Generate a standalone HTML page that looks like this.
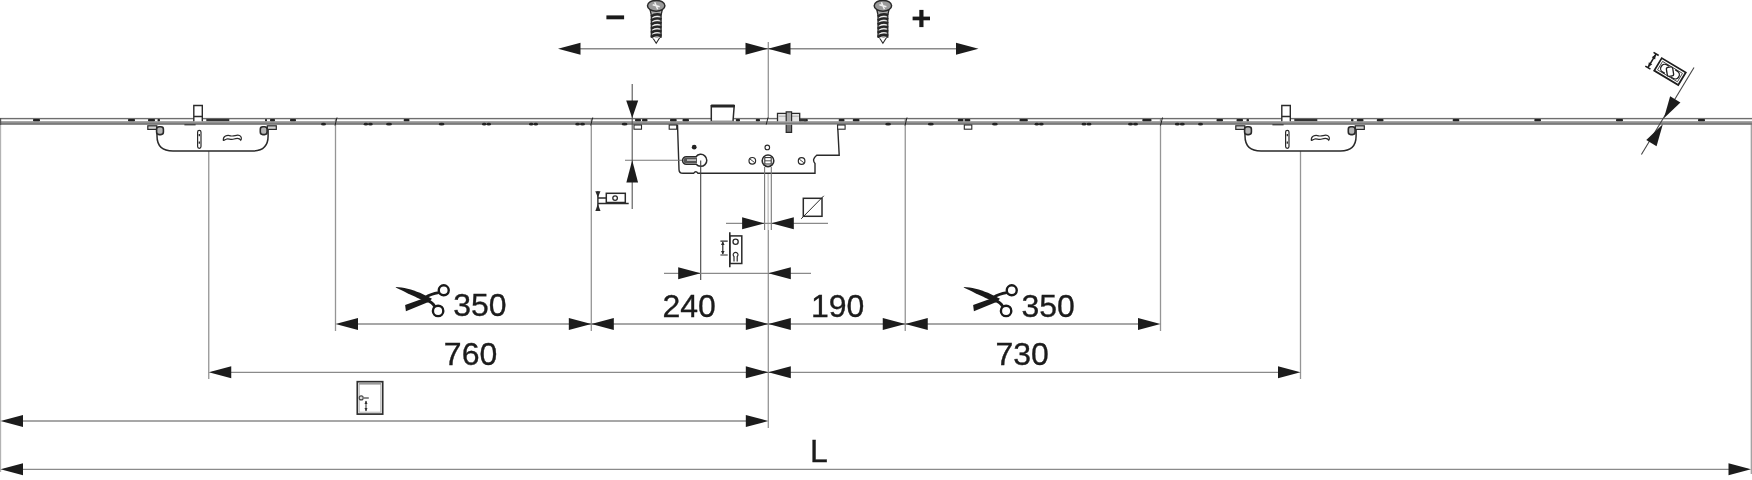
<!DOCTYPE html>
<html><head><meta charset="utf-8"><title>Multipoint lock dimensions</title>
<style>html,body{margin:0;padding:0;background:#fff;width:1752px;height:480px;overflow:hidden;font-family:"Liberation Sans",sans-serif}</style>
</head><body>
<svg width="1752" height="480" viewBox="0 0 1752 480" style="position:absolute;left:0;top:0;will-change:transform;font-family:'Liberation Sans',sans-serif"><line x1="0.60" y1="124.00" x2="0.60" y2="472.00" stroke="#b0b0b0" stroke-width="1.10"/>
<line x1="208.75" y1="151.00" x2="208.75" y2="379.00" stroke="#959595" stroke-width="1.30"/>
<line x1="335.50" y1="119.00" x2="335.50" y2="331.00" stroke="#959595" stroke-width="1.30"/>
<line x1="591.30" y1="119.00" x2="591.30" y2="331.00" stroke="#959595" stroke-width="1.30"/>
<line x1="768.30" y1="42.00" x2="768.30" y2="119.00" stroke="#959595" stroke-width="1.30"/>
<line x1="768.10" y1="167.00" x2="768.10" y2="230.00" stroke="#aaa" stroke-width="1.00"/>
<line x1="768.30" y1="230.00" x2="768.30" y2="428.00" stroke="#959595" stroke-width="1.30"/>
<line x1="905.25" y1="119.00" x2="905.25" y2="331.00" stroke="#959595" stroke-width="1.30"/>
<line x1="1160.50" y1="119.00" x2="1160.50" y2="331.00" stroke="#959595" stroke-width="1.30"/>
<line x1="1300.50" y1="151.00" x2="1300.50" y2="379.00" stroke="#959595" stroke-width="1.30"/>
<line x1="1751.30" y1="124.00" x2="1751.30" y2="474.00" stroke="#999" stroke-width="1.20"/>
<line x1="570.00" y1="48.75" x2="966.00" y2="48.75" stroke="#8a8a8a" stroke-width="1.30"/>
<polygon points="558.00,48.75 580.50,42.75 580.50,54.75" fill="#1c1c1c"/>
<polygon points="768.00,48.75 745.50,42.75 745.50,54.75" fill="#1c1c1c"/>
<polygon points="768.00,48.75 790.50,42.75 790.50,54.75" fill="#1c1c1c"/>
<polygon points="978.50,48.75 956.00,42.75 956.00,54.75" fill="#1c1c1c"/>
<line x1="340.00" y1="324.00" x2="1156.00" y2="324.00" stroke="#8a8a8a" stroke-width="1.30"/>
<polygon points="335.50,324.00 358.00,318.00 358.00,330.00" fill="#1c1c1c"/>
<polygon points="591.30,324.00 613.80,318.00 613.80,330.00" fill="#1c1c1c"/>
<polygon points="768.30,324.00 790.80,318.00 790.80,330.00" fill="#1c1c1c"/>
<polygon points="905.25,324.00 927.75,318.00 927.75,330.00" fill="#1c1c1c"/>
<polygon points="591.30,324.00 568.80,318.00 568.80,330.00" fill="#1c1c1c"/>
<polygon points="768.30,324.00 745.80,318.00 745.80,330.00" fill="#1c1c1c"/>
<polygon points="905.25,324.00 882.75,318.00 882.75,330.00" fill="#1c1c1c"/>
<polygon points="1160.50,324.00 1138.00,318.00 1138.00,330.00" fill="#1c1c1c"/>
<line x1="212.00" y1="372.30" x2="1296.00" y2="372.30" stroke="#8a8a8a" stroke-width="1.30"/>
<polygon points="208.75,372.30 231.25,366.30 231.25,378.30" fill="#1c1c1c"/>
<polygon points="768.30,372.30 745.80,366.30 745.80,378.30" fill="#1c1c1c"/>
<polygon points="768.30,372.30 790.80,366.30 790.80,378.30" fill="#1c1c1c"/>
<polygon points="1300.50,372.30 1278.00,366.30 1278.00,378.30" fill="#1c1c1c"/>
<line x1="4.00" y1="421.00" x2="764.00" y2="421.00" stroke="#8a8a8a" stroke-width="1.30"/>
<polygon points="0.50,421.00 23.00,415.00 23.00,427.00" fill="#1c1c1c"/>
<polygon points="768.30,421.00 745.80,415.00 745.80,427.00" fill="#1c1c1c"/>
<line x1="4.00" y1="469.30" x2="1748.00" y2="469.30" stroke="#8a8a8a" stroke-width="1.30"/>
<polygon points="0.50,469.30 23.00,463.30 23.00,475.30" fill="#1c1c1c"/>
<polygon points="1751.00,469.30 1728.50,463.30 1728.50,475.30" fill="#1c1c1c"/>
<text x="453.25" y="316.40" font-size="32.00" fill="#1c1c1c" stroke="#1c1c1c" stroke-width="0.35" text-anchor="start">350</text>
<text x="662.45" y="316.60" font-size="32.00" fill="#1c1c1c" stroke="#1c1c1c" stroke-width="0.35" text-anchor="start">240</text>
<text x="810.90" y="316.70" font-size="32.00" fill="#1c1c1c" stroke="#1c1c1c" stroke-width="0.35" text-anchor="start">190</text>
<text x="1021.50" y="316.60" font-size="32.00" fill="#1c1c1c" stroke="#1c1c1c" stroke-width="0.35" text-anchor="start">350</text>
<text x="443.85" y="364.70" font-size="32.00" fill="#1c1c1c" stroke="#1c1c1c" stroke-width="0.35" text-anchor="start">760</text>
<text x="995.50" y="364.70" font-size="32.00" fill="#1c1c1c" stroke="#1c1c1c" stroke-width="0.35" text-anchor="start">730</text>
<text x="810.05" y="462.10" font-size="32.00" fill="#1c1c1c" stroke="#1c1c1c" stroke-width="0.35" text-anchor="start">L</text>
<rect x="0" y="117.9" width="1752" height="1.4" fill="#6e6e6e"/>
<rect x="0" y="121.2" width="1752" height="3.4" fill="#929292"/>
<rect x="0" y="123.4" width="1752" height="1.2" fill="#6c6c6c"/>
<rect x="0" y="118" width="1.2" height="7" fill="#555"/>
<rect x="33.0" y="118.9" width="7.0" height="2.4" rx="0.8" fill="#222"/>
<rect x="128.0" y="118.9" width="7.0" height="2.4" rx="0.8" fill="#222"/>
<rect x="148.0" y="118.9" width="7.0" height="2.4" rx="0.8" fill="#222"/>
<rect x="157.5" y="118.9" width="2.5" height="2.4" rx="0.8" fill="#222"/>
<rect x="265.0" y="118.9" width="2.0" height="2.4" rx="0.8" fill="#222"/>
<rect x="270.0" y="118.9" width="5.0" height="2.4" rx="0.8" fill="#222"/>
<rect x="290.0" y="118.9" width="6.0" height="2.4" rx="0.8" fill="#222"/>
<rect x="403.7" y="118.9" width="5.8" height="2.4" rx="0.8" fill="#222"/>
<rect x="635.0" y="118.9" width="6.0" height="2.4" rx="0.8" fill="#222"/>
<rect x="642.0" y="118.9" width="5.5" height="2.4" rx="0.8" fill="#222"/>
<rect x="670.0" y="118.9" width="6.7" height="2.4" rx="0.8" fill="#222"/>
<rect x="682.5" y="118.9" width="6.5" height="2.4" rx="0.8" fill="#222"/>
<rect x="735.8" y="118.9" width="4.2" height="2.4" rx="0.8" fill="#222"/>
<rect x="755.8" y="118.9" width="4.2" height="2.4" rx="0.8" fill="#222"/>
<rect x="803.7" y="118.9" width="4.1" height="2.4" rx="0.8" fill="#222"/>
<rect x="838.7" y="118.9" width="5.8" height="2.4" rx="0.8" fill="#222"/>
<rect x="852.8" y="118.9" width="6.7" height="2.4" rx="0.8" fill="#222"/>
<rect x="957.8" y="118.9" width="5.7" height="2.4" rx="0.8" fill="#222"/>
<rect x="964.5" y="118.9" width="5.8" height="2.4" rx="0.8" fill="#222"/>
<rect x="1019.5" y="118.9" width="8.3" height="2.4" rx="0.8" fill="#222"/>
<rect x="1142.3" y="118.9" width="9.2" height="2.4" rx="0.8" fill="#222"/>
<rect x="1216.5" y="118.9" width="6.5" height="2.4" rx="0.8" fill="#222"/>
<rect x="1236.5" y="118.9" width="6.5" height="2.4" rx="0.8" fill="#222"/>
<rect x="1246.5" y="118.9" width="2.5" height="2.4" rx="0.8" fill="#222"/>
<rect x="1351.0" y="118.9" width="2.5" height="2.4" rx="0.8" fill="#222"/>
<rect x="1356.8" y="118.9" width="6.7" height="2.4" rx="0.8" fill="#222"/>
<rect x="1376.8" y="118.9" width="6.7" height="2.4" rx="0.8" fill="#222"/>
<rect x="1452.7" y="118.9" width="6.6" height="2.4" rx="0.8" fill="#222"/>
<rect x="1534.3" y="118.9" width="6.7" height="2.4" rx="0.8" fill="#222"/>
<rect x="1616.0" y="118.9" width="7.0" height="2.4" rx="0.8" fill="#222"/>
<rect x="1698.0" y="118.9" width="7.0" height="2.4" rx="0.8" fill="#222"/>
<ellipse cx="323.5" cy="124.2" rx="2.5" ry="1.4" fill="#222"/>
<ellipse cx="365.9" cy="124.2" rx="2.2" ry="1.4" fill="#222"/>
<ellipse cx="370.4" cy="124.2" rx="2.4" ry="1.4" fill="#222"/>
<ellipse cx="389.0" cy="124.2" rx="3.0" ry="1.4" fill="#222"/>
<ellipse cx="441.6" cy="124.2" rx="2.9" ry="1.4" fill="#222"/>
<ellipse cx="484.2" cy="124.2" rx="2.2" ry="1.4" fill="#222"/>
<ellipse cx="488.8" cy="124.2" rx="2.2" ry="1.4" fill="#222"/>
<ellipse cx="531.2" cy="124.2" rx="2.2" ry="1.4" fill="#222"/>
<ellipse cx="535.8" cy="124.2" rx="2.2" ry="1.4" fill="#222"/>
<ellipse cx="577.6" cy="124.2" rx="2.4" ry="1.4" fill="#222"/>
<ellipse cx="582.5" cy="124.2" rx="2.5" ry="1.4" fill="#222"/>
<ellipse cx="624.6" cy="124.2" rx="2.9" ry="1.4" fill="#222"/>
<ellipse cx="888.1" cy="124.2" rx="2.9" ry="1.4" fill="#222"/>
<ellipse cx="930.8" cy="124.2" rx="3.0" ry="1.4" fill="#222"/>
<ellipse cx="994.9" cy="124.2" rx="2.9" ry="1.4" fill="#222"/>
<ellipse cx="1036.8" cy="124.2" rx="2.2" ry="1.4" fill="#222"/>
<ellipse cx="1041.3" cy="124.2" rx="2.4" ry="1.4" fill="#222"/>
<ellipse cx="1084.0" cy="124.2" rx="2.5" ry="1.4" fill="#222"/>
<ellipse cx="1089.0" cy="124.2" rx="2.5" ry="1.4" fill="#222"/>
<ellipse cx="1130.5" cy="124.2" rx="2.5" ry="1.4" fill="#222"/>
<ellipse cx="1135.5" cy="124.2" rx="2.5" ry="1.4" fill="#222"/>
<ellipse cx="1177.3" cy="124.2" rx="2.5" ry="1.4" fill="#222"/>
<ellipse cx="1182.3" cy="124.2" rx="2.5" ry="1.4" fill="#222"/>
<ellipse cx="1200.5" cy="124.2" rx="2.5" ry="1.4" fill="#222"/>
<line x1="335.0" y1="125.5" x2="337.0" y2="117.5" stroke="#222" stroke-width="1"/>
<line x1="590.7" y1="125.5" x2="592.7" y2="117.5" stroke="#222" stroke-width="1"/>
<line x1="766.0" y1="125.5" x2="768.0" y2="117.5" stroke="#222" stroke-width="1"/>
<line x1="905.0" y1="125.5" x2="907.0" y2="117.5" stroke="#222" stroke-width="1"/>
<line x1="1160.5" y1="125.5" x2="1162.5" y2="117.5" stroke="#222" stroke-width="1"/>
<g transform="translate(0.00,0)"><path d="M157,128.5 L157,136 Q157,151 173,151 L252.5,151 Q268.1,151 268.1,136 L268.1,128.5" fill="none" stroke="#2a2a2a" stroke-width="1.5"/><rect x="147.8" y="125.8" width="9" height="3.6" fill="#d0d0d0" stroke="#2a2a2a" stroke-width="1.2"/><rect x="267.3" y="125.8" width="9" height="3.6" fill="#d0d0d0" stroke="#2a2a2a" stroke-width="1.2"/><rect x="156.6" y="126.8" width="6.8" height="7.8" rx="2.5" fill="#b5b5b5" stroke="#2a2a2a" stroke-width="1.6"/><rect x="260.3" y="126.8" width="6.8" height="7.8" rx="2.5" fill="#b5b5b5" stroke="#2a2a2a" stroke-width="1.6"/><path d="M193.8,121.2 L193.8,105.5 L202.3,105.5 L202.3,121.2 M193.8,116.5 L202.3,116.5" fill="#fff" stroke="#2a2a2a" stroke-width="1.4"/><rect x="206.3" y="118.9" width="23" height="2.2" fill="#333"/><rect x="184.4" y="124" width="11.2" height="1.4" fill="#444"/><rect x="197.6" y="130.3" width="3.4" height="18" rx="1.7" fill="#fff" stroke="#2a2a2a" stroke-width="1.2"/><rect x="198.6" y="134" width="1.4" height="2.2" fill="#333"/><rect x="198.6" y="141.5" width="1.4" height="2.2" fill="#333"/><path d="M223.3,140.2 C223,136 227,134.8 230.5,135.8 C234,136.8 236.5,134.3 239.5,135.5 C241.5,136.3 241.8,139 240.8,140.2 C239.5,138 237,138 234,139 C231,140 228,138.3 226,139.2 C225,139.6 224.2,140.8 223.3,140.2 Z" fill="#fff" stroke="#2a2a2a" stroke-width="1.2"/></g>
<g transform="translate(1088.00,0)"><path d="M157,128.5 L157,136 Q157,151 173,151 L252.5,151 Q268.1,151 268.1,136 L268.1,128.5" fill="none" stroke="#2a2a2a" stroke-width="1.5"/><rect x="147.8" y="125.8" width="9" height="3.6" fill="#d0d0d0" stroke="#2a2a2a" stroke-width="1.2"/><rect x="267.3" y="125.8" width="9" height="3.6" fill="#d0d0d0" stroke="#2a2a2a" stroke-width="1.2"/><rect x="156.6" y="126.8" width="6.8" height="7.8" rx="2.5" fill="#b5b5b5" stroke="#2a2a2a" stroke-width="1.6"/><rect x="260.3" y="126.8" width="6.8" height="7.8" rx="2.5" fill="#b5b5b5" stroke="#2a2a2a" stroke-width="1.6"/><path d="M193.8,121.2 L193.8,105.5 L202.3,105.5 L202.3,121.2 M193.8,116.5 L202.3,116.5" fill="#fff" stroke="#2a2a2a" stroke-width="1.4"/><rect x="206.3" y="118.9" width="23" height="2.2" fill="#333"/><rect x="184.4" y="124" width="11.2" height="1.4" fill="#444"/><rect x="197.6" y="130.3" width="3.4" height="18" rx="1.7" fill="#fff" stroke="#2a2a2a" stroke-width="1.2"/><rect x="198.6" y="134" width="1.4" height="2.2" fill="#333"/><rect x="198.6" y="141.5" width="1.4" height="2.2" fill="#333"/><path d="M223.3,140.2 C223,136 227,134.8 230.5,135.8 C234,136.8 236.5,134.3 239.5,135.5 C241.5,136.3 241.8,139 240.8,140.2 C239.5,138 237,138 234,139 C231,140 228,138.3 226,139.2 C225,139.6 224.2,140.8 223.3,140.2 Z" fill="#fff" stroke="#2a2a2a" stroke-width="1.2"/></g>
<path d="M677.5,124.8 L679,169.5 Q679,173.3 683,173.3 L693.6,173.3 Q695.8,170.2 698,173.3 L815,173.3 L815,163.5 Q811.5,159.5 816.7,155.3 L839.2,155.3 L837.6,124.8" fill="#fff" stroke="#2a2a2a" stroke-width="1.4"/>
<rect x="634.0" y="125" width="7.5" height="4.2" fill="#fff" stroke="#2a2a2a" stroke-width="1.1"/>
<rect x="669.2" y="125" width="7.5" height="4.2" fill="#fff" stroke="#2a2a2a" stroke-width="1.1"/>
<rect x="837.6" y="125" width="7.5" height="4.2" fill="#fff" stroke="#2a2a2a" stroke-width="1.1"/>
<rect x="964.3" y="125" width="7.5" height="4.2" fill="#fff" stroke="#2a2a2a" stroke-width="1.1"/>
<path d="M711.3,121.2 L711.3,105.8 L734.2,105.8 L733,121.2" fill="#fff" stroke="#2a2a2a" stroke-width="1.5"/>
<rect x="710.8" y="104.6" width="24" height="2.8" rx="0.8" fill="#262626"/>
<line x1="712" y1="121.1" x2="732.5" y2="121.1" stroke="#777" stroke-width="0.9"/>
<path d="M777.5,121.2 L777.5,113.4 L799.7,113.4 L799.7,121.2" fill="#e6e6e6" stroke="#2a2a2a" stroke-width="1.3"/>
<line x1="778.5" y1="116.2" x2="798.8" y2="116.2" stroke="#999" stroke-width="0.8"/>
<path d="M786.2,121.2 L786.2,111.8 L791.6,111.8 L791.6,121.2" fill="#aaa" stroke="#2a2a2a" stroke-width="1.2"/>
<path d="M786.2,124.8 L786.2,132.4 L791.6,132.4 L791.6,124.8" fill="#777" stroke="#2a2a2a" stroke-width="1.2"/>
<rect x="800" y="119" width="6" height="2.2" fill="#333"/>
<circle cx="694.2" cy="147.2" r="2.4" fill="#222"/>
<circle cx="767.3" cy="147.4" r="2.3" fill="#fff" stroke="#2a2a2a" stroke-width="1.1"/>
<circle cx="752.3" cy="160.8" r="3.3" fill="#fff" stroke="#2a2a2a" stroke-width="1.2"/>
<line x1="750" y1="159" x2="754.5" y2="162.5" stroke="#2a2a2a" stroke-width="0.9"/>
<circle cx="801.6" cy="161" r="3.3" fill="#fff" stroke="#2a2a2a" stroke-width="1.2"/>
<line x1="799.3" y1="159.2" x2="803.8" y2="162.7" stroke="#2a2a2a" stroke-width="0.9"/>
<path d="M686.3,156.7 L696,156.7 A6,6 0 1 1 696.2,164.2 L686.3,164.2 A3.75,3.75 0 0 1 686.3,156.7 Z" fill="#fff" stroke="#2a2a2a" stroke-width="1.5"/>
<path d="M686.3,157.6 L697,157.6 L697,163.3 L686.3,163.3 A2.85,2.85 0 0 1 686.3,157.6 Z" fill="#555"/>
<rect x="687" y="159.3" width="9" height="1.6" fill="#ccc"/>
<circle cx="768" cy="160.8" r="5.8" fill="#fff" stroke="#2a2a2a" stroke-width="1.6"/>
<rect x="764.8" y="157.6" width="6.4" height="6.4" fill="none" stroke="#2a2a2a" stroke-width="1"/>
<line x1="765" y1="160.8" x2="771" y2="160.8" stroke="#2a2a2a" stroke-width="0.8"/>
<line x1="764.60" y1="167.00" x2="764.60" y2="230.00" stroke="#777" stroke-width="1.10"/>
<line x1="771.30" y1="167.00" x2="771.30" y2="230.00" stroke="#777" stroke-width="1.10"/>
<line x1="625.00" y1="160.30" x2="682.00" y2="160.30" stroke="#777" stroke-width="1.10"/>
<line x1="700.70" y1="160.50" x2="700.70" y2="280.00" stroke="#444" stroke-width="1.10"/>
<line x1="632.20" y1="84.00" x2="632.20" y2="209.00" stroke="#555" stroke-width="1.10"/>
<polygon points="632.20,118.00 626.20,100.50 638.20,100.50" fill="#1c1c1c"/>
<polygon points="632.20,160.20 626.35,182.50 638.05,182.50" fill="#1c1c1c"/>
<line x1="726.00" y1="223.30" x2="828.00" y2="223.30" stroke="#8a8a8a" stroke-width="1.30"/>
<polygon points="764.60,223.30 742.10,217.30 742.10,229.30" fill="#1c1c1c"/>
<polygon points="771.30,223.30 793.80,217.30 793.80,229.30" fill="#1c1c1c"/>
<rect x="803.3" y="198.3" width="18.7" height="18" fill="none" stroke="#2a2a2a" stroke-width="1.5"/>
<line x1="801.2" y1="218.8" x2="823.8" y2="195.8" stroke="#2a2a2a" stroke-width="1"/>
<line x1="664.00" y1="273.30" x2="811.00" y2="273.30" stroke="#8a8a8a" stroke-width="1.30"/>
<polygon points="700.70,273.30 678.20,267.30 678.20,279.30" fill="#1c1c1c"/>
<polygon points="768.30,273.30 790.80,267.30 790.80,279.30" fill="#1c1c1c"/>
<line x1="729.8" y1="232.3" x2="729.8" y2="267.2" stroke="#2a2a2a" stroke-width="1.6"/>
<rect x="729.8" y="235.9" width="12" height="27.6" fill="none" stroke="#2a2a2a" stroke-width="1.5"/>
<circle cx="735.6" cy="241.8" r="2.6" fill="none" stroke="#2a2a2a" stroke-width="1.3"/>
<path d="M734,261.5 L734,256.5 A2.4,2.4 0 1 1 737.2,256.5 L737.2,261.5" fill="none" stroke="#2a2a2a" stroke-width="1.2"/>
<path d="M720.4,241.1 L727.7,241.1 M720.4,255 L727.7,255 M722.8,242 L722.8,254" fill="none" stroke="#2a2a2a" stroke-width="1.2"/>
<polygon points="722.8,241.5 721,245 724.6,245" fill="#2a2a2a"/><polygon points="722.8,254.6 721,251 724.6,251" fill="#2a2a2a"/>
<rect x="606.3" y="193.3" width="19" height="9.2" fill="none" stroke="#2a2a2a" stroke-width="1.5"/>
<circle cx="615.1" cy="198.1" r="2.3" fill="none" stroke="#2a2a2a" stroke-width="1.3"/>
<path d="M597.5,203.5 L628.7,203.5 M597.9,198 L606.3,198 M597.9,191.3 L597.9,210.9" fill="none" stroke="#2a2a2a" stroke-width="1.4"/>
<polygon points="597.9,197.5 595.3,191.3 600.5,191.3" fill="#2a2a2a"/><polygon points="597.9,204 595.3,210.9 600.5,210.9" fill="#2a2a2a"/>
<g><path d="M651.60,36 L656.20,43.3 L660.80,36 Z" fill="#fff" stroke="#2a2a2a" stroke-width="1.1"/><path d="M650.20,10 L651.30,15 L651.30,37 L661.10,37 L661.10,15 L662.20,10 Z" fill="#aaa" stroke="#2a2a2a" stroke-width="1.3"/><path d="M651.00,16.40 Q656.20,12.90 661.40,15.20" fill="none" stroke="#262626" stroke-width="2.4"/><path d="M652.80,17.70 Q656.20,15.70 659.60,16.90" fill="none" stroke="#f4f4f4" stroke-width="1.1"/><path d="M651.00,20.50 Q656.20,17.00 661.40,19.30" fill="none" stroke="#262626" stroke-width="2.4"/><path d="M652.80,21.80 Q656.20,19.80 659.60,21.00" fill="none" stroke="#f4f4f4" stroke-width="1.1"/><path d="M651.00,24.60 Q656.20,21.10 661.40,23.40" fill="none" stroke="#262626" stroke-width="2.4"/><path d="M652.80,25.90 Q656.20,23.90 659.60,25.10" fill="none" stroke="#f4f4f4" stroke-width="1.1"/><path d="M651.00,28.70 Q656.20,25.20 661.40,27.50" fill="none" stroke="#262626" stroke-width="2.4"/><path d="M652.80,30.00 Q656.20,28.00 659.60,29.20" fill="none" stroke="#f4f4f4" stroke-width="1.1"/><path d="M651.00,32.80 Q656.20,29.30 661.40,31.60" fill="none" stroke="#262626" stroke-width="2.4"/><path d="M652.80,34.10 Q656.20,32.10 659.60,33.30" fill="none" stroke="#f4f4f4" stroke-width="1.1"/><path d="M651.00,36.90 Q656.20,33.40 661.40,35.70" fill="none" stroke="#262626" stroke-width="2.4"/><path d="M652.80,38.20 Q656.20,36.20 659.60,37.40" fill="none" stroke="#f4f4f4" stroke-width="1.1"/><ellipse cx="656.20" cy="5.8" rx="8.7" ry="5.4" fill="#9a9a9a" stroke="#2a2a2a" stroke-width="1.5"/><path d="M654.70,2.2 L657.70,9.2 M652.70,4.8 L659.70,6.8" fill="none" stroke="#f0f0f0" stroke-width="1.5"/></g>
<g><path d="M878.30,36 L882.90,43.3 L887.50,36 Z" fill="#fff" stroke="#2a2a2a" stroke-width="1.1"/><path d="M876.90,10 L878.00,15 L878.00,37 L887.80,37 L887.80,15 L888.90,10 Z" fill="#aaa" stroke="#2a2a2a" stroke-width="1.3"/><path d="M877.70,16.40 Q882.90,12.90 888.10,15.20" fill="none" stroke="#262626" stroke-width="2.4"/><path d="M879.50,17.70 Q882.90,15.70 886.30,16.90" fill="none" stroke="#f4f4f4" stroke-width="1.1"/><path d="M877.70,20.50 Q882.90,17.00 888.10,19.30" fill="none" stroke="#262626" stroke-width="2.4"/><path d="M879.50,21.80 Q882.90,19.80 886.30,21.00" fill="none" stroke="#f4f4f4" stroke-width="1.1"/><path d="M877.70,24.60 Q882.90,21.10 888.10,23.40" fill="none" stroke="#262626" stroke-width="2.4"/><path d="M879.50,25.90 Q882.90,23.90 886.30,25.10" fill="none" stroke="#f4f4f4" stroke-width="1.1"/><path d="M877.70,28.70 Q882.90,25.20 888.10,27.50" fill="none" stroke="#262626" stroke-width="2.4"/><path d="M879.50,30.00 Q882.90,28.00 886.30,29.20" fill="none" stroke="#f4f4f4" stroke-width="1.1"/><path d="M877.70,32.80 Q882.90,29.30 888.10,31.60" fill="none" stroke="#262626" stroke-width="2.4"/><path d="M879.50,34.10 Q882.90,32.10 886.30,33.30" fill="none" stroke="#f4f4f4" stroke-width="1.1"/><path d="M877.70,36.90 Q882.90,33.40 888.10,35.70" fill="none" stroke="#262626" stroke-width="2.4"/><path d="M879.50,38.20 Q882.90,36.20 886.30,37.40" fill="none" stroke="#f4f4f4" stroke-width="1.1"/><ellipse cx="882.90" cy="5.8" rx="8.7" ry="5.4" fill="#9a9a9a" stroke="#2a2a2a" stroke-width="1.5"/><path d="M881.40,2.2 L884.40,9.2 M879.40,4.8 L886.40,6.8" fill="none" stroke="#f0f0f0" stroke-width="1.5"/></g>
<rect x="606.4" y="15.4" width="17.7" height="3.9" fill="#1a1a1a"/>
<rect x="912.6" y="16.6" width="17.4" height="3.7" fill="#1a1a1a"/><rect x="919.3" y="9.9" width="4.2" height="17.2" fill="#1a1a1a"/>
<g transform="translate(0.00,0)"><path d="M395.8,286.9 C403,287 412,289.3 420,292.8 L432,298.8 L428,302.6 L421,299.5 C412,295.5 402,290.6 395.8,287.5 Z" fill="#1a1a1a"/><path d="M405.1,305 L422.5,298.8 L429.5,299.4 L427.8,302.2 L405.9,311.2 Z" fill="#1a1a1a"/><path d="M425.5,297.5 C430,294.2 434.5,293.2 438.8,292.6" fill="none" stroke="#1a1a1a" stroke-width="2.8"/><path d="M427,300.2 C431,302 433.5,304 434.6,306.3" fill="none" stroke="#1a1a1a" stroke-width="3"/><circle cx="443.75" cy="290.3" r="5.0" fill="none" stroke="#1a1a1a" stroke-width="2.4"/><circle cx="438.1" cy="310.9" r="5.2" fill="none" stroke="#1a1a1a" stroke-width="2.4"/></g>
<g transform="translate(568.00,0)"><path d="M395.8,286.9 C403,287 412,289.3 420,292.8 L432,298.8 L428,302.6 L421,299.5 C412,295.5 402,290.6 395.8,287.5 Z" fill="#1a1a1a"/><path d="M405.1,305 L422.5,298.8 L429.5,299.4 L427.8,302.2 L405.9,311.2 Z" fill="#1a1a1a"/><path d="M425.5,297.5 C430,294.2 434.5,293.2 438.8,292.6" fill="none" stroke="#1a1a1a" stroke-width="2.8"/><path d="M427,300.2 C431,302 433.5,304 434.6,306.3" fill="none" stroke="#1a1a1a" stroke-width="3"/><circle cx="443.75" cy="290.3" r="5.0" fill="none" stroke="#1a1a1a" stroke-width="2.4"/><circle cx="438.1" cy="310.9" r="5.2" fill="none" stroke="#1a1a1a" stroke-width="2.4"/></g>
<rect x="357.3" y="381.7" width="25.4" height="32.4" fill="#fff" stroke="#2e2e2e" stroke-width="1.7"/>
<rect x="359.2" y="383.6" width="21.6" height="28.6" fill="none" stroke="#aaa" stroke-width="0.9"/>
<rect x="359" y="383" width="22" height="1.6" fill="#999"/>
<circle cx="361.2" cy="397.9" r="2" fill="#ddd" stroke="#444" stroke-width="1.1"/><line x1="363" y1="398" x2="368.8" y2="398" stroke="#777" stroke-width="1.7"/>
<line x1="366" y1="401" x2="366" y2="411" stroke="#333" stroke-width="1"/><polygon points="366,400.5 364.5,404 367.5,404" fill="#333"/><polygon points="366,411.5 364.5,408 367.5,408" fill="#333"/>
<line x1="1694.00" y1="67.50" x2="1641.40" y2="154.50" stroke="#444" stroke-width="1.10"/>
<polygon points="1663.90,118.30 1680.42,102.58 1670.15,96.37" fill="#1c1c1c"/>
<polygon points="1662.80,124.30 1646.28,140.02 1656.55,146.23" fill="#1c1c1c"/>
<g transform="translate(1670,71.6) rotate(31)"><rect x="-14" y="-7.3" width="28" height="14.6" fill="#fff" stroke="#1e1e1e" stroke-width="1.8"/><rect x="-11.6" y="-4.9" width="23.2" height="9.8" fill="none" stroke="#333" stroke-width="0.8"/><path d="M-3.5,-4.2 L-6,-4.2 A4.2,4.2 0 0 0 -6,4.2 L-3.5,4.2 M3.5,-4.2 L6,-4.2 A4.2,4.2 0 0 1 6,4.2 L3.5,4.2" fill="none" stroke="#1e1e1e" stroke-width="1.3"/><rect x="-3.2" y="-4.6" width="6.4" height="9.2" rx="1.8" fill="#fff" stroke="#1e1e1e" stroke-width="1.3" transform="rotate(-40)"/><path d="M-21,-8 L-21,8 M-24,-8 L-18,-8 M-24,8 L-18,8" fill="none" stroke="#1e1e1e" stroke-width="1.6"/><polygon points="-21,-7.5 -23,-2.8 -19,-2.8" fill="#1e1e1e"/><polygon points="-21,7.5 -23,2.8 -19,2.8" fill="#1e1e1e"/></g></svg>
</body></html>
